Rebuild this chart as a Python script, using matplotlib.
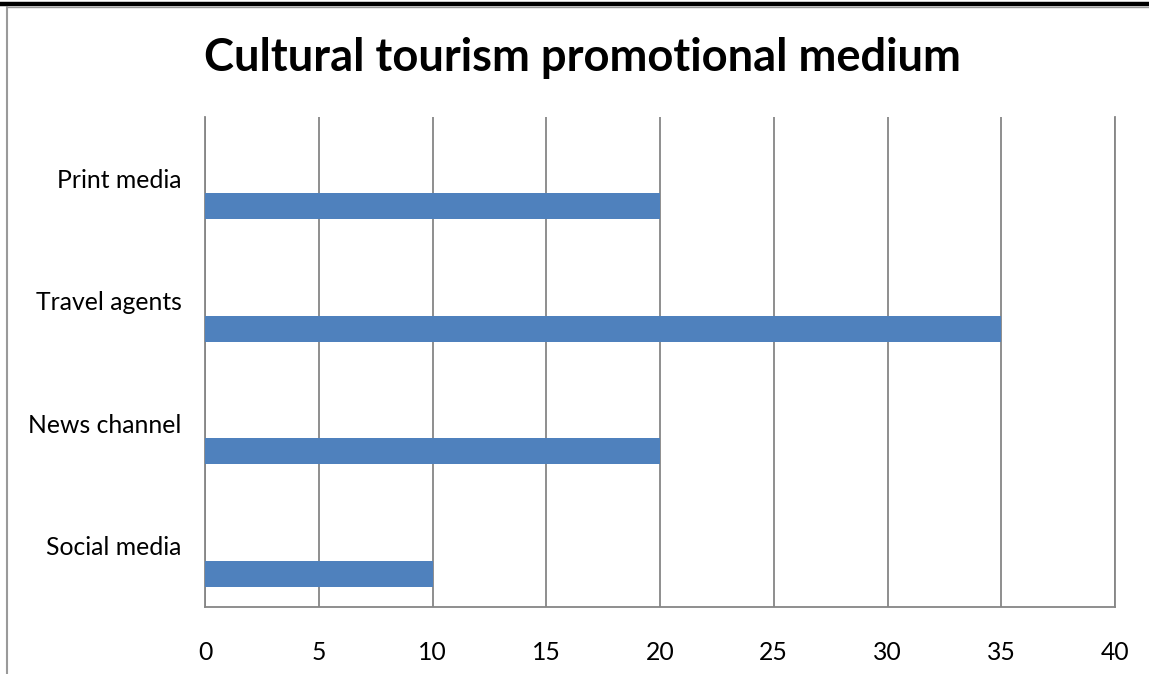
import matplotlib.pyplot as plt
from matplotlib.lines import Line2D
import numpy as np

# 数据
categories = ['Social media', 'News channel', 'Travel agents', 'Print media']
values = [10, 20, 35, 20]
xticks = [0, 5, 10, 15, 20, 25, 30, 35, 40]

plt.rcParams['font.family'] = ['Lato', 'DejaVu Sans']

fig = plt.figure(figsize=(11.49, 6.74), dpi=100)
W, H = 1149, 674
# 绘图区 (像素)
left, right, top, bottom = 205, 1115, 117, 607
ax = fig.add_axes([left / W, 1 - bottom / H, (right - left) / W, (bottom - top) / H])

y = np.arange(len(categories))
bar_h = 0.215
ax.barh(y - 0.228, values, height=bar_h, color='#4f81bd', zorder=3)

ax.set_xlim(0, 40)
ax.set_ylim(-0.5, len(categories) - 0.5)
ax.set_xticks(xticks)
ax.set_xticklabels([str(t) for t in xticks], fontsize=17.8)
ax.set_yticks(y)
ax.set_yticklabels(categories, fontsize=17.8)
ax.tick_params(axis='x', length=0, pad=24.5)
ax.tick_params(axis='y', length=0, pad=17)

ax.grid(axis='x', color='#868686', linewidth=1.3, zorder=0)
ax.spines['top'].set_visible(False)
for s in ['left', 'bottom', 'right']:
    ax.spines[s].set_color('#868686')
    ax.spines[s].set_linewidth(1.3)

fig.text(582 / W, 1 - 58 / H, 'Cultural tourism promotional medium',
         ha='center', va='center', fontsize=32.6, fontweight='bold')

# 外框线
fig.add_artist(Line2D([0, 1], [1 - 3.5 / H, 1 - 3.5 / H], color='black', linewidth=3.2))
fig.add_artist(Line2D([7 / W, 1], [1 - 6.5 / H, 1 - 6.5 / H], color='#9a9a9a', linewidth=1))
fig.add_artist(Line2D([7 / W, 7 / W], [0, 1 - 6.5 / H], color='#9a9a9a', linewidth=1.5))

plt.savefig('out.png', dpi=100)
